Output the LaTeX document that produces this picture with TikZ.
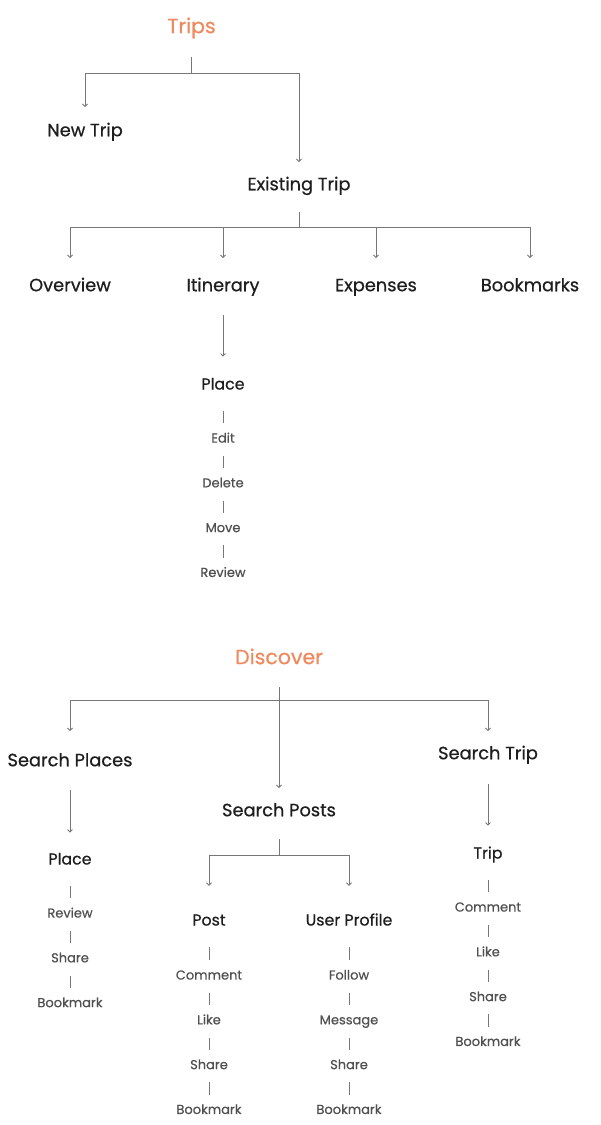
\documentclass[tikz,border=0pt]{standalone}
\usepackage{fontspec}
\setmainfont{Poppins}
\newfontfamily\medfont{Poppins}[FakeBold=0.6]
\usetikzlibrary{arrows.meta}
\definecolor{titleorange}{HTML}{EF8A5F}
\definecolor{headblack}{HTML}{1E1E1E}
\definecolor{leafgray}{HTML}{505050}
\definecolor{linegray}{HTML}{777777}
\begin{document}
\begin{tikzpicture}[x=1pt,y=-1pt,
  title/.style={font=\medfont\fontsize{20.5}{20.5}\selectfont, text=titleorange, inner sep=0pt, text height=14.3pt, text depth=0pt},
  head/.style={font=\medfont\fontsize{17.8}{17.8}\selectfont, text=headblack, inner sep=0pt, text height=12.5pt, text depth=0pt},
  sub/.style={font=\medfont\fontsize{15.8}{15.8}\selectfont, text=headblack, inner sep=0pt, text height=11pt, text depth=0pt},
  leaf/.style={font=\medfont\fontsize{13}{13}\selectfont, text=leafgray, inner sep=0pt, text height=9.1pt, text depth=0pt},
  conn/.style={draw=linegray, line width=0.9pt},
  arr/.style={conn, -{Straight Barb[length=2.5pt,width=5pt]}},
  sublink/.style={conn, shorten <=21pt, shorten >=10pt},
  leaflink/.style={conn, shorten <=13pt, shorten >=10pt}]

\useasboundingbox (0,0) rectangle (601,1125);

\node [title] (trips) at (191.5,26) {Trips};
\node [head] (newtrip) at (85,130) {New Trip};
\node [head] (existing) at (299,184) {Existing Trip};
\coordinate (tfork) at (191.5,73);
\draw [conn, shorten <=24pt] (trips) -- (tfork);
\draw [arr, shorten >=16.5pt] (tfork) -| (newtrip);
\draw [arr, shorten >=15.5pt] (tfork) -| (existing);

\node [head] (overview) at (70,285) {Overview};
\node [head] (itinerary) at (223,285) {Itinerary};
\node [head] (expenses) at (376,285) {Expenses};
\node [head] (bookmarks) at (530,285) {Bookmarks};
\coordinate (efork) at (299,227);
\draw [conn, shorten <=21.5pt] (existing) -- (efork);
\foreach \n in {overview,itinerary,expenses,bookmarks}
  \draw [arr, shorten >=20.5pt] (efork) -| (\n);

\node [sub] (place) at (223,384) {Place};
\draw [arr, shorten <=23.5pt, shorten >=21.6pt] (itinerary) -- (place);
\foreach \t [count=\i] in {Edit,Delete,Move,Review}
  \node [leaf] (pl\i) at (223,{438+(\i-1)*44.8}) {\t};
\draw [sublink] (place) -- (pl1);
\foreach \i [remember=\i as \j (initially 1)] in {2,...,4}
  \draw [leaflink] (pl\j) -- (pl\i);

\node [title] (discover) at (279,657) {Discover};
\node [head] (searchplaces) at (70,760) {Search Places};
\node [head] (searchposts) at (279,810) {Search Posts};
\node [head] (searchtrip) at (488,753) {Search Trip};
\coordinate (dfork) at (279,700);
\draw [arr, shorten <=23pt, shorten >=15.5pt] (discover) -- (searchposts);
\draw [arr, shorten >=22.5pt] (dfork) -| (searchplaces);
\draw [arr, shorten >=15.5pt] (dfork) -| (searchtrip);

\node [sub] (dplace) at (70,859) {Place};
\node [sub] (trip) at (488,853) {Trip};
\draw [arr, shorten <=23.5pt, shorten >=20.6pt] (searchplaces) -- (dplace);
\draw [arr, shorten <=24.5pt, shorten >=21.6pt] (searchtrip) -- (trip);

\node [sub] (post) at (209,920) {Post};
\node [sub] (profile) at (349,920) {User Profile};
\coordinate (pfork) at (279,855);
\draw [conn, shorten <=22.5pt] (searchposts) -- (pfork);
\draw [arr, shorten >=28.5pt] (pfork) -| (post);
\draw [arr, shorten >=28.5pt] (pfork) -| (profile);

\foreach \t [count=\i] in {Review,Share,Bookmark}
  \node [leaf] (dp\i) at (70,{913+(\i-1)*44.8}) {\t};
\foreach \t [count=\i] in {Comment,Like,Share,Bookmark}
  \node [leaf] (po\i) at (209,{975+(\i-1)*44.8}) {\t};
\foreach \t [count=\i] in {Follow,Message,Share,Bookmark}
  \node [leaf] (up\i) at (349,{975+(\i-1)*44.8}) {\t};
\foreach \t [count=\i] in {Comment,Like,Share,Bookmark}
  \node [leaf] (tr\i) at (488,{907+(\i-1)*44.8}) {\t};

\draw [sublink] (dplace) -- (dp1);
\draw [sublink] (post) -- (po1);
\draw [sublink] (profile) -- (up1);
\draw [sublink] (trip) -- (tr1);
\foreach \i [remember=\i as \j (initially 1)] in {2,3}
  \draw [leaflink] (dp\j) -- (dp\i);
\foreach \c in {po,up,tr}
  \foreach \i [remember=\i as \j (initially 1)] in {2,...,4}
    \draw [leaflink] (\c\j) -- (\c\i);

\end{tikzpicture}
\end{document}
